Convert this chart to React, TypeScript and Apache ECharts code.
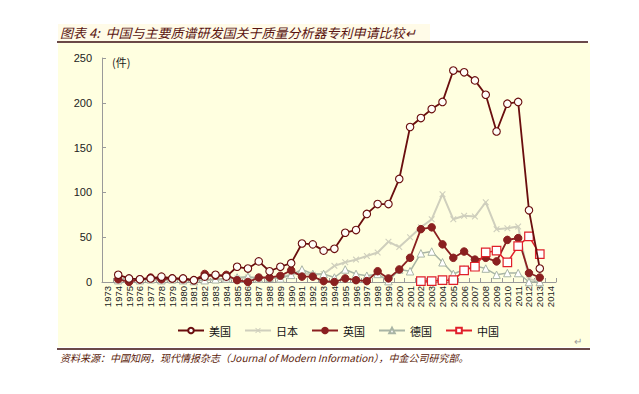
import React, { useEffect, useRef } from "react";
import * as echarts from "echarts";

const years = [
  "1973","1974","1975","1976","1977","1978","1979","1980","1981","1982",
  "1983","1984","1985","1986","1987","1988","1989","1990","1991","1992",
  "1993","1994","1995","1996","1997","1998","1999","2000","2001","2002",
  "2003","2004","2005","2006","2007","2008","2009","2010","2011","2012",
  "2013","2014",
];

const usa = [null,8,4,3,4,6,4,4,2,6,8,6,17,15,23,12,17,21,43,42,35,37,55,58,76,87,87,115,173,183,193,201,236,234,225,209,168,199,201,80,15,null];
const japan = [null,2,3,2,3,2,2,3,2,3,2,3,4,5,5,4,6,8,10,8,9,18,22,25,29,33,45,39,50,61,70,98,70,74,73,89,59,60,62,3,1,null];
const uk = [null,3,0,3,5,3,4,3,2,9,7,8,2,0,5,5,7,13,6,6,1,0,4,2,1,12,4,14,27,59,61,42,27,34,25,27,23,47,49,10,5,null];
const germany = [null,2,4,2,3,2,3,2,1,2,3,4,5,6,4,5,4,8,14,9,9,5,14,9,7,9,1,14,12,32,34,22,9,14,18,15,8,10,10,0,0,null];
const china = [null,null,null,null,null,null,null,null,null,null,null,null,null,null,null,null,null,null,null,null,null,null,null,null,null,null,null,null,null,1,1,2,2,13,17,33,35,22,40,51,31,null];

const seriesNames = ["美国", "日本", "英国", "德国", "中国"];
const yTicks = { min: 0, max: 250, interval: 50 };

const titleText = "图表 4:  中国与主要质谱研发国关于质量分析器专利申请比较↵";
const sourceText = "资料来源：中国知网，现代情报杂志（Journal of Modern Information），中金公司研究部。";
const unitText = "(件)";

const crossPath =
  "path://M0,1.2L1.2,0L5,3.8L8.8,0L10,1.2L6.2,5L10,8.8L8.8,10L5,6.2L1.2,10L0,8.8L3.8,5Z";

export default function App() {
  const ref = useRef<HTMLDivElement>(null);
  useEffect(() => {
    if (!ref.current) return;
    const chart = echarts.init(ref.current, undefined, { renderer: "svg" });
    const font = "Arial, 'Liberation Sans', 'Noto Sans CJK SC', sans-serif";
    chart.setOption({
      animation: false,
      backgroundColor: "#ffffff",
      textStyle: { fontFamily: font },
      graphic: [
        { type: "rect", z: -10, shape: { x: 58, y: 24, width: 372, height: 18 }, style: { fill: "#fffbe8" } },
        { type: "rect", z: -10, shape: { x: 58, y: 43, width: 532, height: 304 }, style: { fill: "#ffffe0" } },
        { type: "line", shape: { x1: 57, y1: 42, x2: 588, y2: 42 }, style: { stroke: "#3a0c0c", lineWidth: 1.5 } },
        { type: "line", shape: { x1: 57, y1: 349, x2: 590, y2: 349 }, style: { stroke: "#3a0c0c", lineWidth: 1.5 } },
        {
          type: "text", x: 60, y: 26,
          style: { text: titleText, fill: "#5a1410", font: "italic 13px 'Noto Sans CJK SC', sans-serif" },
        },
        {
          type: "text", x: 60, y: 352,
          style: { text: sourceText, fill: "#5a1a08", font: "italic 10px 'Noto Sans CJK SC', sans-serif" },
        },
        {
          type: "text", x: 112, y: 56,
          style: { text: unitText, fill: "#222", font: "11px 'Noto Sans CJK SC', sans-serif" },
        },
        {
          type: "text", x: 574, y: 336,
          style: { text: "↵", fill: "#999", font: "10px sans-serif" },
        },
      ],
      grid: { left: 102, right: 83, top: 58, bottom: 112, containLabel: false },
      legend: {
        top: 320,
        left: 172,
        itemGap: 13,
        itemWidth: 26,
        itemHeight: 7,
        textStyle: { fontSize: 11, color: "#111", fontFamily: "'Noto Sans CJK SC', sans-serif" },
        data: seriesNames,
      },
      xAxis: {
        type: "category",
        data: years,
        boundaryGap: true,
        axisLine: { lineStyle: { color: "#9a9a9a", width: 1 } },
        axisTick: { show: true, inside: true, length: 4, lineStyle: { color: "#9a9a9a" } },
        axisLabel: { rotate: 90, interval: 0, fontSize: 9.5, color: "#222", margin: 4 },
        splitLine: { show: false },
      },
      yAxis: {
        type: "value",
        min: yTicks.min,
        max: yTicks.max,
        interval: yTicks.interval,
        axisLine: { show: true, lineStyle: { color: "#9a9a9a", width: 1 } },
        axisTick: { show: true, inside: true, length: 4, lineStyle: { color: "#9a9a9a" } },
        axisLabel: { fontSize: 11, color: "#222", margin: 10 },
        splitLine: { show: false },
      },
      series: [
        {
          name: seriesNames[0], type: "line", data: usa,
          symbol: "circle", symbolSize: 7.5, showAllSymbol: true,
          lineStyle: { color: "#6a0e0e", width: 1.8 },
          itemStyle: { color: "#fffdf8", borderColor: "#6a0e0e", borderWidth: 1.1 },
          z: 6,
        },
        {
          name: seriesNames[1], type: "line", data: japan,
          symbol: crossPath, symbolSize: 6.5, showAllSymbol: true,
          lineStyle: { color: "#cfcfbd", width: 2 },
          itemStyle: { color: "#cfcfbd", borderColor: "#cfcfbd", borderWidth: 0 },
          z: 2,
        },
        {
          name: seriesNames[2], type: "line", data: uk,
          symbol: "circle", symbolSize: 7.5, showAllSymbol: true,
          lineStyle: { color: "#8a2020", width: 1.8 },
          itemStyle: { color: "#8a2020", borderColor: "#8a2020", borderWidth: 1 },
          z: 4,
        },
        {
          name: seriesNames[3], type: "line", data: germany,
          symbol: "triangle", symbolSize: 7.5, showAllSymbol: true,
          lineStyle: { color: "#a9b5a5", width: 1.5 },
          itemStyle: { color: "#ffffff", borderColor: "#a9b5a5", borderWidth: 1 },
          z: 3,
        },
        {
          name: seriesNames[4], type: "line", data: china,
          symbol: "rect", symbolSize: 8.5, showAllSymbol: true,
          lineStyle: { color: "#e0202a", width: 1.5 },
          itemStyle: { color: "#ffffff", borderColor: "#e0202a", borderWidth: 1.2 },
          z: 5,
        },
      ],
    });
    return () => chart.dispose();
  }, []);
  return (
    <div
      ref={ref}
      style={{ position: "fixed", left: 0, top: 0, width: 639, height: 394 }}
    />
  );
}
